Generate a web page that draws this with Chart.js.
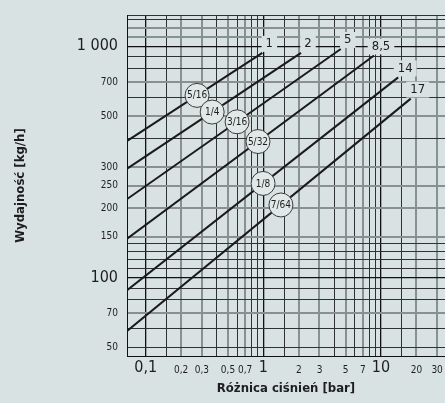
<!DOCTYPE html>
<html>
<head>
<meta charset="utf-8">
<script src="https://cdn.jsdelivr.net/npm/chart.js@4.4.0/dist/chart.umd.min.js"></script>
<style>
  html, body { margin: 0; padding: 0; background: #d9e2e2; }
  #wrap { width: 445px; height: 403px; overflow: hidden; }
</style>
</head>
<body>
<div id="wrap"><canvas id="flowChart" width="445" height="403"></canvas></div>
<script>
// Nozzle capacity vs. pressure difference, log-log
const pressureLabels = ['1', '2', '5', '8,5', '14', '17'];
const nozzleSizes = ['5/16', '1/4', '3/16', '5/32', '1/8', '7/64'];
const startPressure = [0.069, 0.069, 0.069, 0.069, 0.069, 0.069];
const startFlow = [389, 295, 218, 147, 88, 58.6];
const endPressure = [0.98, 2.09, 4.55, 8.72, 14.0, 17.9];
const endFlow = [937, 937, 974, 913, 734, 594];
const badgePressure = [0.273, 0.367, 0.598, 0.90, 0.994, 1.41];

const xGrid = [0.1, 0.15, 0.2, 0.3, 0.4, 0.5, 0.6, 0.7, 0.8, 0.9, 1, 1.5, 2, 3, 4, 5, 6, 7, 8, 9, 10, 15, 20, 30];
const xTickValues = [0.1, 0.2, 0.3, 0.5, 0.7, 1, 2, 3, 5, 7, 10, 20, 30];
const xTickText = ['0,1', '0,2', '0,3', '0,5', '0,7', '1', '2', '3', '5', '7', '10', '20', '30'];
const xBig = [0.1, 1, 10];
const xGray = [0.2, 0.3, 0.5, 0.7, 2, 3, 5, 7, 20, 30];

const yGrid = [50, 60, 70, 80, 90, 100, 110, 120, 130, 140, 150, 200, 250, 300, 400, 500, 600, 700, 800, 900, 1000, 1100, 1200, 1300, 1366];
const yTickValues = [50, 70, 100, 150, 200, 250, 300, 500, 700, 1000];
const yTickText = ['50', '70', '100', '150', '200', '250', '300', '500', '700', '1 000'];
const yBig = [100, 1000];
const yGray = [70, 150, 200, 250, 300, 500, 700, 1100, 1200];

const FONT = "'Liberation Sans Narrow', 'DejaVu Sans Condensed', 'Roboto', sans-serif";
const BG = '#d9e2e2';
const TEXT = '#1e1e1e';

const has = (arr, v) => arr.some(a => Math.abs(a - v) / a < 1e-6);
const labelFor = (vals, texts, v) => {
  const i = vals.findIndex(a => Math.abs(a - v) / a < 1e-6);
  return i < 0 ? '' : texts[i];
};
const gridColor = (big, gray) => c => {
  const v = c.tick ? c.tick.value : 0;
  if (has(big, v)) return '#111';
  if (has(gray, v)) return '#8a8f8f';
  return '#2e3232';
};
const gridWidth = (big, gray) => c => {
  const v = c.tick ? c.tick.value : 0;
  if (has(big, v)) return 1.3;
  if (has(gray, v)) return 2;
  return 1;
};

const lineLabels = {
  id: 'lineLabels',
  afterDatasetsDraw(chart) {
    const { ctx, scales: { x } } = chart;
    ctx.save();
    ctx.textAlign = 'center';
    ctx.textBaseline = 'middle';
    chart.data.datasets.forEach((ds, i) => {
      const pts = chart.getDatasetMeta(i).data;
      const p0 = pts[0], p1 = pts[1];
      // pressure label at the end of the line
      ctx.font = `13px ${FONT}`;
      const tx = p1.x + 7, ty = p1.y - 9;
      const w = ctx.measureText(pressureLabels[i]).width + 8;
      ctx.fillStyle = BG;
      ctx.fillRect(tx - w / 2, ty - 8, w, 16);
      ctx.fillStyle = TEXT;
      ctx.fillText(pressureLabels[i], tx, ty);
      // nozzle size badge on the line
      const bx = x.getPixelForValue(badgePressure[i]);
      const t = (bx - p0.x) / (p1.x - p0.x);
      const by = p0.y + t * (p1.y - p0.y);
      ctx.beginPath();
      ctx.arc(bx, by, 12, 0, Math.PI * 2);
      ctx.fillStyle = '#e1e8e8';
      ctx.fill();
      ctx.lineWidth = 1;
      ctx.strokeStyle = '#3a3a3a';
      ctx.stroke();
      ctx.fillStyle = TEXT;
      ctx.font = `10px ${FONT}`;
      ctx.fillText(nozzleSizes[i], bx, by + 0.5);
    });
    ctx.restore();
  }
};

new Chart(document.getElementById('flowChart'), {
  type: 'line',
  data: {
    datasets: nozzleSizes.map((name, i) => ({
      label: name,
      data: [{ x: startPressure[i], y: startFlow[i] }, { x: endPressure[i], y: endFlow[i] }],
      borderColor: '#1a1a1a',
      borderWidth: 2,
      pointRadius: 0,
      tension: 0,
      fill: false
    }))
  },
  options: {
    responsive: false,
    animation: false,
    devicePixelRatio: 1,
    layout: { padding: { top: 8, right: 0, bottom: 0, left: 0 } },
    plugins: { legend: { display: false }, tooltip: { enabled: false } },
    scales: {
      x: {
        type: 'logarithmic',
        min: 0.0693,
        max: 35,
        afterBuildTicks: s => { s.ticks = xGrid.map(v => ({ value: v })); },
        afterFit: s => { s.height = 47; },
        grid: { color: gridColor(xBig, xGray), lineWidth: gridWidth(xBig, xGray), drawTicks: false },
        border: { color: '#111', width: 1 },
        ticks: {
          autoSkip: false, maxRotation: 0, minRotation: 0, padding: 1, color: TEXT,
          font: c => has(xBig, c.tick.value)
            ? { family: FONT, size: 16, lineHeight: 1.3 }
            : { family: FONT, size: 10, lineHeight: 2.74 },
          callback: v => labelFor(xTickValues, xTickText, v)
        },
        title: {
          display: true, text: 'Różnica ciśnień [bar]', color: TEXT,
          font: { family: FONT, size: 13, weight: 'bold', lineHeight: 1.2 },
          padding: { top: 0, bottom: 7 }
        }
      },
      y: {
        type: 'logarithmic',
        min: 45.8,
        max: 1366,
        afterBuildTicks: s => { s.ticks = yGrid.map(v => ({ value: v })); },
        afterFit: s => { s.width = 127; },
        grid: { color: gridColor(yBig, yGray), lineWidth: gridWidth(yBig, yGray), drawTicks: false },
        border: { color: '#111', width: 1 },
        ticks: {
          autoSkip: false, padding: 9, color: TEXT,
          font: c => has(yBig, c.tick.value)
            ? { family: FONT, size: 16 }
            : { family: FONT, size: 10 },
          callback: v => labelFor(yTickValues, yTickText, v)
        },
        title: {
          display: true, text: 'Wydajność [kg/h]', color: TEXT,
          font: { family: FONT, size: 13, weight: 'bold', lineHeight: 1.2 },
          padding: { top: 13, bottom: 0 }
        }
      }
    }
  },
  plugins: [lineLabels]
});
</script>
</body>
</html>
